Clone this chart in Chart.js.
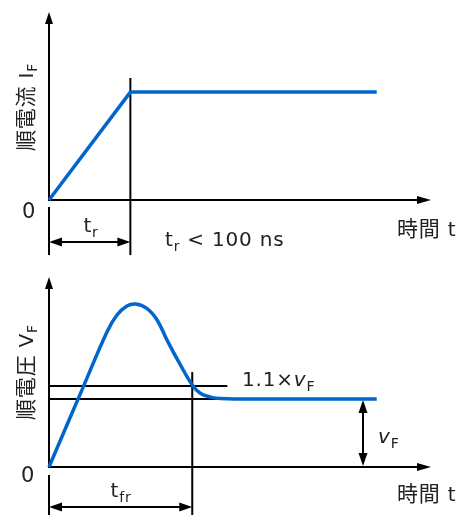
<!DOCTYPE html>
<html>
<head>
<meta charset="utf-8">
<script src="https://cdn.jsdelivr.net/npm/chart.js@4"></script>
<style>
  html, body { margin: 0; padding: 0; background: #fff; }
  canvas { display: block; }
</style>
</head>
<body>
<canvas id="currentChart" width="459" height="258"></canvas>
<canvas id="voltageChart" width="459" height="257"></canvas>
<script>
// forward current: linear ramp until t_r, then flat
const currentTime = [0, 21.3, 85.8];
const currentValue = [0, 57.4, 57.4];

// forward voltage: overshoot then settles at vF
const voltageTime = [0, 9, 15.2, 17.8, 20.4, 22.6, 25.6, 28.3, 30.9, 34.4, 37.5, 39.6, 42.3, 44.9, 50, 85.8];
const voltageValue = [0, 42.3, 71.2, 80, 84.7, 85.8, 83.5, 77.4, 66.8, 53.7, 43.2, 38.8, 36.8, 36.0, 35.8, 35.8];

const riseTime = 21.3;      // t_r
const recoveryTime = 37.5;  // t_fr
const vfLevel = 35.8;       // vF
const vfMark = 42.6;        // 1.1 x vF

const FONT = '"DejaVu Sans", "Noto Sans CJK JP", sans-serif';
const BLUE = '#0066cc';
const SPACING = 0.8;

function seg(ctx, x1, y1, x2, y2) {
    ctx.beginPath();
    ctx.moveTo(x1, y1);
    ctx.lineTo(x2, y2);
    ctx.stroke();
}

function head(ctx, x, y, dx, dy, len, half) {
    const px = -dy, py = dx;
    ctx.beginPath();
    ctx.moveTo(x, y);
    ctx.lineTo(x - dx * len + px * half, y - dy * len + py * half);
    ctx.lineTo(x - dx * len - px * half, y - dy * len - py * half);
    ctx.closePath();
    ctx.fill();
}

// parts: [text, size, shiftDown, italic]
function rich(ctx, parts, x, y, align) {
    const widths = parts.map(p => {
        ctx.font = (p[3] ? 'italic ' : '') + p[1] + 'px ' + FONT;
        return ctx.measureText(p[0]).width + p[0].length * SPACING;
    });
    const total = widths.reduce((a, b) => a + b, 0);
    let cx = align === 'center' ? x - total / 2 : x;
    ctx.textAlign = 'left';
    ctx.textBaseline = 'alphabetic';
    parts.forEach((p, i) => {
        ctx.font = (p[3] ? 'italic ' : '') + p[1] + 'px ' + FONT;
        let lx = cx;
        for (const ch of p[0]) {
            ctx.fillText(ch, lx, y + p[2]);
            lx += ctx.measureText(ch).width + SPACING;
        }
        cx += widths[i];
    });
}

function drawAxes(chart) {
    const { ctx, scales: { x, y } } = chart;
    const x0 = x.getPixelForValue(0), y0 = y.getPixelForValue(0);
    const xEnd = x.getPixelForValue(100), yEnd = y.getPixelForValue(100);
    seg(ctx, x0, y0, xEnd - 8, y0);
    head(ctx, xEnd, y0, 1, 0, 14, 4);
    seg(ctx, x0, y0 + 1, x0, yEnd + 8);
    head(ctx, x0, yEnd, 0, -1, 12, 4);
}

function doubleArrow(ctx, x1, y1, x2, y2) {
    const len = Math.hypot(x2 - x1, y2 - y1);
    const dx = (x2 - x1) / len, dy = (y2 - y1) / len;
    seg(ctx, x1 + dx * 8, y1 + dy * 8, x2 - dx * 8, y2 - dy * 8);
    head(ctx, x1, y1, -dx, -dy, 13, 4.5);
    head(ctx, x2, y2, dx, dy, 13, 4.5);
}

function yLabel(ctx, cx, cy, parts) {
    ctx.save();
    ctx.translate(cx, cy);
    ctx.rotate(-Math.PI / 2);
    rich(ctx, parts, 0, 8, 'center');
    ctx.restore();
}

const currentMarks = {
    id: 'currentMarks',
    beforeDatasetsDraw(chart) {
        const { ctx, scales: { x, y } } = chart;
        ctx.save();
        ctx.strokeStyle = '#000';
        ctx.fillStyle = '#000';
        ctx.lineWidth = 2;
        drawAxes(chart);
        const xr = x.getPixelForValue(riseTime);
        seg(ctx, xr, y.getPixelForValue(64.9), xr, y.getPixelForValue(-29.3));
        seg(ctx, x.getPixelForValue(0), y.getPixelForValue(-3.7), x.getPixelForValue(0), y.getPixelForValue(-29.3));
        doubleArrow(ctx, x.getPixelForValue(0), y.getPixelForValue(-22.3), xr, y.getPixelForValue(-22.3));
        ctx.restore();
    },
    afterDraw(chart) {
        const { ctx } = chart;
        ctx.save();
        ctx.fillStyle = '#222';
        rich(ctx, [['0', 21, 0]], 29, 218, 'center');
        rich(ctx, [['t', 20, 0], ['r', 14, 5]], 91, 232, 'center');
        rich(ctx, [['t', 20, 0], ['r', 14, 5], [' < 100 ns', 20, 0]], 165, 246, 'left');
        rich(ctx, [['時間', 21, 0], [' t', 20, 0]], 397, 236, 'left');
        yLabel(ctx, 25, 107, [['順電流', 21, 0], [' I', 20, 0], ['F', 14, 4]]);
        ctx.restore();
    }
};

const voltageMarks = {
    id: 'voltageMarks',
    beforeDatasetsDraw(chart) {
        const { ctx, scales: { x, y } } = chart;
        ctx.save();
        ctx.strokeStyle = '#000';
        ctx.fillStyle = '#000';
        ctx.lineWidth = 2;
        drawAxes(chart);
        const x0 = x.getPixelForValue(0);
        seg(ctx, x0, y.getPixelForValue(vfMark), x.getPixelForValue(46.7), y.getPixelForValue(vfMark));
        seg(ctx, x0, y.getPixelForValue(vfLevel), x.getPixelForValue(60), y.getPixelForValue(vfLevel));
        const xf = x.getPixelForValue(recoveryTime);
        seg(ctx, xf, y.getPixelForValue(50), xf, y.getPixelForValue(-25.3));
        seg(ctx, x0, y.getPixelForValue(-4.2), x0, y.getPixelForValue(-25.3));
        doubleArrow(ctx, x0, y.getPixelForValue(-21), xf, y.getPixelForValue(-21));
        const xv = x.getPixelForValue(82.2);
        doubleArrow(ctx, xv, y.getPixelForValue(vfLevel) + 1, xv, y.getPixelForValue(0) - 1);
        ctx.restore();
    },
    afterDraw(chart) {
        const { ctx } = chart;
        const off = 258;
        ctx.save();
        ctx.fillStyle = '#222';
        rich(ctx, [['0', 21, 0]], 28, 482 - off, 'center');
        rich(ctx, [['t', 20, 0], ['fr', 14, 5]], 121, 497 - off, 'center');
        rich(ctx, [['1.1×', 20, 0], ['v', 20, 0, true], ['F', 14, 5]], 242, 386 - off, 'left');
        rich(ctx, [['v', 20, 0, true], ['F', 14, 5]], 378, 443 - off, 'left');
        rich(ctx, [['時間', 21, 0], [' t', 20, 0]], 397, 501 - off, 'left');
        yLabel(ctx, 25, 372 - off, [['順電圧', 21, 0], [' V', 20, 0], ['F', 14, 4]]);
        ctx.restore();
    }
};

function makeChart(id, xs, ys, padding, smooth, plugin) {
    new Chart(document.getElementById(id), {
        type: 'scatter',
        data: {
            datasets: [{
                data: xs.map((t, i) => ({ x: t, y: ys[i] })),
                showLine: true,
                borderColor: BLUE,
                borderWidth: 3.5,
                pointRadius: 0,
                tension: smooth ? 0.4 : 0,
                clip: false
            }]
        },
        options: {
            responsive: false,
            animation: false,
            layout: { padding: padding },
            scales: {
                x: { type: 'linear', min: 0, max: 100, display: false },
                y: { type: 'linear', min: 0, max: 100, display: false }
            },
            plugins: {
                legend: { display: false },
                tooltip: { enabled: false }
            }
        },
        plugins: [plugin]
    });
}

makeChart('currentChart', currentTime, currentValue, { left: 49, right: 28, top: 12, bottom: 58 }, false, currentMarks);
makeChart('voltageChart', voltageTime, voltageValue, { left: 49, right: 28, top: 19, bottom: 48 }, true, voltageMarks);
</script>
</body>
</html>
